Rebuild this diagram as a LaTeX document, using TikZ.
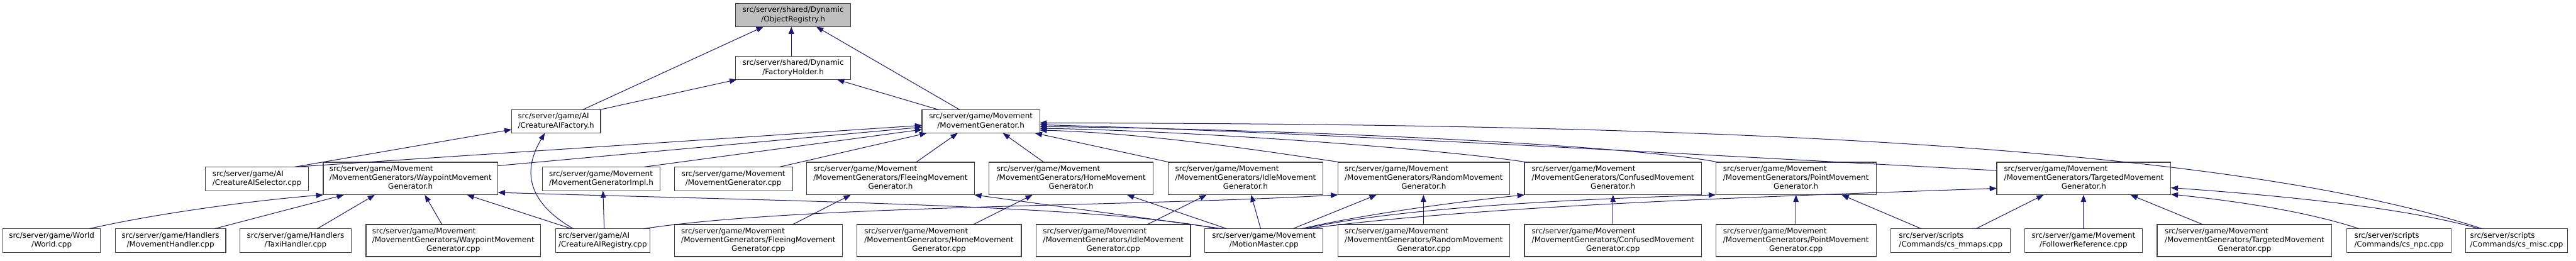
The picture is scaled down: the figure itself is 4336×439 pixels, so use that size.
\documentclass[tikz,border=0pt]{standalone}
\usepackage{fontspec}
\setmainfont{DejaVu Sans}
\usetikzlibrary{arrows.meta}
\definecolor{edgecol}{HTML}{191970}
\definecolor{bordercol}{HTML}{404040}
\definecolor{rootfill}{HTML}{BFBFBF}
\newcommand{\twoln}[2]{\begin{tabular}{@{}l@{}}#1\\\multicolumn{1}{@{}c@{}}{#2}\end{tabular}}
\newcommand{\threeln}[3]{\begin{tabular}{@{}l@{}}#1\\#2\\\multicolumn{1}{@{}c@{}}{#3}\end{tabular}}
\newcommand{\bx}[7][]{%
  \pgfmathsetmacro{\bxw}{(#5-#3)*0.75}%
  \pgfmathsetmacro{\bxh}{(#6-#4)*0.75}%
  \pgfmathsetmacro{\bxcx}{(#3+#5)/2}%
  \pgfmathsetmacro{\bxcy}{(#4+#6)/2}%
  \node[box,#1,minimum width=\bxw pt,minimum height=\bxh pt] (#2) at (\bxcx,\bxcy) {#7};%
}
\begin{document}
\begin{tikzpicture}[x=0.75pt,y=-0.75pt,
  box/.style={draw=bordercol,fill=white,line width=1pt,inner sep=0pt,outer sep=0pt,
    font=\fontsize{9.5}{11.25}\selectfont},
  root/.style={fill=rootfill},
  edge/.style={draw=edgecol,line width=0.8pt,-{Triangle[length=9pt,width=6.75pt]}}]
\useasboundingbox[fill=white] (0,0) rectangle (4336,439);
% top
\bx[root]{objreg}{1238}{6}{1432}{45}{\twoln{src/server/shared/Dynamic}{/ObjectRegistry.h}}
\bx{facthold}{1238}{95}{1432}{134}{\twoln{src/server/shared/Dynamic}{/FactoryHolder.h}}
\bx{caifact}{861}{185}{1011}{224}{\twoln{src/server/game/AI}{/CreatureAIFactory.h}}
\bx{mgh}{1552}{185}{1750}{224}{\twoln{src/server/game/Movement}{/MovementGenerator.h}}
% row 2
\bx{caisel}{346}{281}{519}{321}{\twoln{src/server/game/AI}{/CreatureAISelector.cpp}}
\bx{wph}{544}{273}{838}{328}{\threeln{src/server/game/Movement}{/MovementGenerators/WaypointMovement}{Generator.h}}
\bx{implh}{913}{281}{1111}{321}{\twoln{src/server/game/Movement}{/MovementGeneratorImpl.h}}
\bx{mgcpp}{1135}{281}{1334}{321}{\twoln{src/server/game/Movement}{/MovementGenerator.cpp}}
\bx{fleeh}{1358}{273}{1640}{328}{\threeln{src/server/game/Movement}{/MovementGenerators/FleeingMovement}{Generator.h}}
\bx{homeh}{1665}{273}{1941}{328}{\threeln{src/server/game/Movement}{/MovementGenerators/HomeMovement}{Generator.h}}
\bx{idleh}{1966}{273}{2227}{328}{\threeln{src/server/game/Movement}{/MovementGenerators/IdleMovement}{Generator.h}}
\bx{randh}{2252}{273}{2541}{328}{\threeln{src/server/game/Movement}{/MovementGenerators/RandomMovement}{Generator.h}}
\bx{confh}{2566}{273}{2864}{328}{\threeln{src/server/game/Movement}{/MovementGenerators/ConfusedMovement}{Generator.h}}
\bx{pointh}{2888}{273}{3158}{328}{\threeln{src/server/game/Movement}{/MovementGenerators/PointMovement}{Generator.h}}
\bx{targh}{3361}{273}{3654}{328}{\threeln{src/server/game/Movement}{/MovementGenerators/TargetedMovement}{Generator.h}}
% row 3
\bx{world}{5}{385}{169}{425}{\twoln{src/server/game/World}{/World.cpp}}
\bx{movhand}{194}{385}{380}{425}{\twoln{src/server/game/Handlers}{/MovementHandler.cpp}}
\bx{taxi}{404}{385}{591}{425}{\twoln{src/server/game/Handlers}{/TaxiHandler.cpp}}
\bx{wpcpp}{616}{378}{910}{432}{\threeln{src/server/game/Movement}{/MovementGenerators/WaypointMovement}{Generator.cpp}}
\bx{cair}{935}{385}{1094}{425}{\twoln{src/server/game/AI}{/CreatureAIRegistry.cpp}}
\bx{fleecpp}{1135}{378}{1418}{432}{\threeln{src/server/game/Movement}{/MovementGenerators/FleeingMovement}{Generator.cpp}}
\bx{homecpp}{1442}{378}{1719}{432}{\threeln{src/server/game/Movement}{/MovementGenerators/HomeMovement}{Generator.cpp}}
\bx{idlecpp}{1744}{378}{2004}{432}{\threeln{src/server/game/Movement}{/MovementGenerators/IdleMovement}{Generator.cpp}}
\bx{mm}{2028}{385}{2227}{425}{\twoln{src/server/game/Movement}{/MotionMaster.cpp}}
\bx{randcpp}{2252}{378}{2541}{432}{\threeln{src/server/game/Movement}{/MovementGenerators/RandomMovement}{Generator.cpp}}
\bx{confcpp}{2566}{378}{2864}{432}{\threeln{src/server/game/Movement}{/MovementGenerators/ConfusedMovement}{Generator.cpp}}
\bx{pointcpp}{2888}{378}{3158}{432}{\threeln{src/server/game/Movement}{/MovementGenerators/PointMovement}{Generator.cpp}}
\bx{mmaps}{3183}{385}{3384}{425}{\twoln{src/server/scripts}{/Commands/cs\_mmaps.cpp}}
\bx{follow}{3408}{385}{3606}{425}{\twoln{src/server/game/Movement}{/FollowerReference.cpp}}
\bx{targcpp}{3631}{378}{3925}{432}{\threeln{src/server/game/Movement}{/MovementGenerators/TargetedMovement}{Generator.cpp}}
\bx{npc}{3950}{385}{4126}{425}{\twoln{src/server/scripts}{/Commands/cs\_npc.cpp}}
\bx{misc}{4150}{385}{4322}{425}{\twoln{src/server/scripts}{/Commands/cs\_misc.cpp}}
% edges to top
\draw[edge] (caifact.north -| 980,0) -- (objreg.south -| 1285,0);
\draw[edge] (facthold.north -| 1332,0) -- (objreg.south -| 1332,0);
\draw[edge] (mgh.north -| 1616,0) -- (objreg.south -| 1374,0);
\draw[edge] (caifact.north -| 1008,0) -- (facthold.south -| 1240,0);
\draw[edge] (mgh.north -| 1581,0) -- (facthold.south -| 1409,0);
% to CreatureAIFactory
\draw[edge] (caisel.north -| 496,0) -- (caifact.west |- 0,218);
\draw[edge] (cair.north -| 965,0) .. controls (870,330) and (890,270) .. (caifact.south -| 917,0);
% to MovementGenerator.h
\draw[edge] (caisel.north -| 496,0) -- (mgh.west |- 0,211);
\draw[edge] (wph.east |- 0,279) -- (mgh.west |- 0,214);
\draw[edge] (implh.north -| 1084,0) -- (mgh.west |- 0,218);
\draw[edge] (mgcpp.north -| 1312,0) -- (mgh.south -| 1560,0);
\draw[edge] (fleeh.north -| 1542,0) -- (mgh.south -| 1612,0);
\draw[edge] (homeh.north -| 1757,0) -- (mgh.south -| 1688,0);
\draw[edge] (idleh.north -| 1968,0) -- (mgh.south -| 1742,0);
\draw[edge] (randh.north -| 2256,0) .. controls (2150,258) and (1950,225) .. (mgh.east |- 0,219);
\draw[edge] (confh.north -| 2570,0) .. controls (2420,250) and (2000,220) .. (mgh.east |- 0,216);
\draw[edge] (pointh.north -| 2892,0) .. controls (2750,245) and (2200,218) .. (mgh.east |- 0,213);
\draw[edge] (targh.west |- 0,287) .. controls (2900,263) and (2200,222) .. (mgh.east |- 0,210);
\draw[edge] (misc.north -| 4178,0) .. controls (3750,245) and (2900,208) .. (mgh.east |- 0,207);
% MotionMaster
\draw[edge] (mm.north -| 2049,0) .. controls (1850,345) and (1300,338) .. (wph.east |- 0,324);
\draw[edge] (mm.north -| 2058,0) -- (fleeh.south east);
\draw[edge] (mm.north -| 2065,0) -- (homeh.south -| 1897,0);
\draw[edge] (mm.north -| 2122,0) -- (idleh.south -| 2106,0);
\draw[edge] (mm.north -| 2176,0) -- (randh.south -| 2317,0);
\draw[edge] (mm.north -| 2190,0) .. controls (2300,360) and (2450,340) .. (confh.south west);
\draw[edge] (mm.north -| 2196,0) .. controls (2350,350) and (2650,335) .. (pointh.south west);
\draw[edge] (mm.north -| 2200,0) .. controls (2500,345) and (3000,330) .. (targh.west |- 0,317);
% CreatureAIRegistry
\draw[edge] (cair.north -| 962,0) -- (wph.south -| 786,0);
\draw[edge] (cair.north -| 1017,0) -- (implh.south -| 1015,0);
\draw[edge] (cair.north -| 1083,0) .. controls (1350,345) and (1900,348) .. (randh.south west);
% Waypoint
\draw[edge] (world.north -| 150,0) .. controls (260,360) and (420,338) .. (wph.south west);
\draw[edge] (movhand.north -| 361,0) -- (wph.south -| 579,0);
\draw[edge] (taxi.north -| 534,0) -- (wph.south -| 631,0);
\draw[edge] (wpcpp.north -| 744,0) -- (wph.south -| 715,0);
% others
\draw[edge] (fleecpp.north -| 1334,0) -- (fleeh.south -| 1432,0);
\draw[edge] (homecpp.north -| 1638,0) -- (homeh.south -| 1738,0);
\draw[edge] (idlecpp.north -| 1931,0) -- (idleh.south -| 2031,0);
\draw[edge] (randcpp.north -| 2396,0) -- (randh.south -| 2396,0);
\draw[edge] (confcpp.north -| 2715,0) -- (confh.south -| 2715,0);
\draw[edge] (pointcpp.north -| 3023,0) -- (pointh.south -| 3023,0);
\draw[edge] (mmaps.north -| 3234,0) -- (pointh.south -| 3100,0);
\draw[edge] (mmaps.north -| 3326,0) -- (targh.south -| 3440,0);
\draw[edge] (follow.north -| 3507,0) -- (targh.south -| 3507,0);
\draw[edge] (targcpp.north -| 3708,0) -- (targh.south -| 3586,0);
\draw[edge] (npc.north -| 3971,0) .. controls (3880,355) and (3760,338) .. (targh.east |- 0,327);
\draw[edge] (misc.north -| 4173,0) .. controls (4050,350) and (3850,330) .. (targh.east |- 0,316);
\end{tikzpicture}
\end{document}
